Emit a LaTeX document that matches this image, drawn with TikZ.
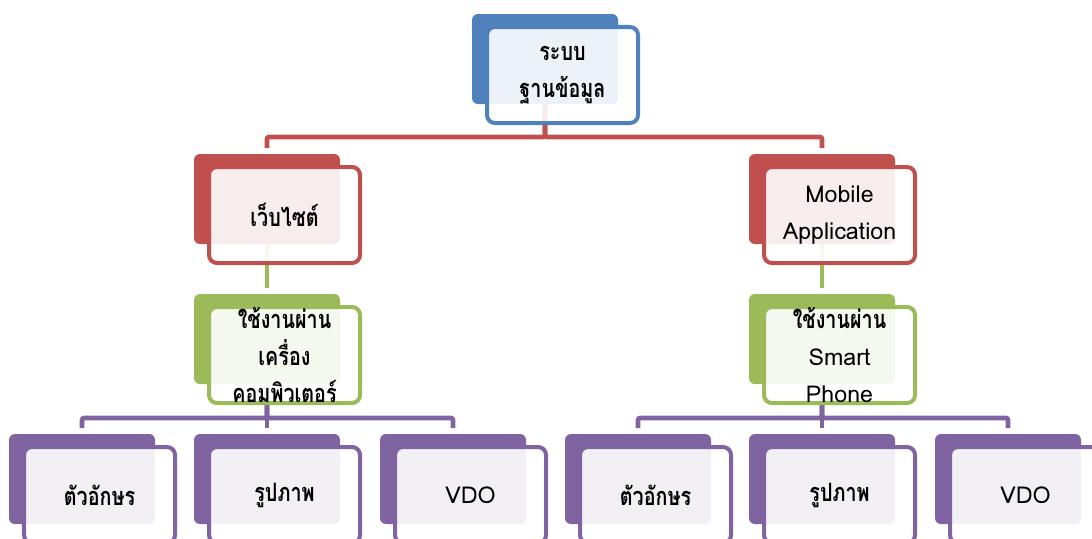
\documentclass[tikz,border=0pt]{standalone}
\usepackage{fontspec}
\setmainfont[Script=Thai]{Loma}
\newfontfamily\thaifont[Script=Thai, FakeStretch=0.78]{Loma}
\newcommand\thaitext{\thaifont\bfseries\fontsize{18}{26.5}\selectfont}
\usetikzlibrary{calc,backgrounds}

\definecolor{boxblue}{HTML}{4F81BD}
\definecolor{boxred}{HTML}{C0504D}
\definecolor{boxgreen}{HTML}{9BBB59}
\definecolor{boxpurple}{HTML}{8064A2}

\tikzset{
  backbox/.style={fill=#1, rounded corners=0.15cm, minimum width=3.65cm,
    minimum height=2.25cm, anchor=north west, inner sep=0pt, outer sep=0pt},
  frontbox/.style={draw=#1, fill=white, fill opacity=0.9, line width=0.1cm,
    rounded corners=0.2cm, minimum width=3.775cm, minimum height=2.4cm,
    anchor=north west, inner sep=0pt, outer sep=0pt},
  boxtext/.style={align=center, inner sep=0pt, font=\fontsize{16.5}{26.5}\selectfont},
  link/.style={draw=#1, line width=0.115cm, rounded corners=0.05cm, shorten >=0.15cm},
}

\begin{document}
\begin{tikzpicture}[x=0.025cm, y=-0.025cm]
    \useasboundingbox (0,0) rectangle (1092,539);
    \clip (0,0) rectangle (1092,539);

    % Boxes: coloured back, white front, text
    \foreach \nm/\x/\y/\col/\txt in {
        db/472/14/boxblue/\thaitext ระบบ\\\thaitext ฐานข้อมูล,
        web/194/154/boxred/\thaitext เว็บไซต์,
        mob/749/154/boxred/Mobile\\Application,
        pc/194/294/boxgreen/\thaitext ใช้งานผ่าน\\\thaitext เครื่อง\\\thaitext คอมพิวเตอร์,
        phone/749/294/boxgreen/\thaitext ใช้งานผ่าน\\\normalfont\fontsize{16.5}{26.5}\selectfont Smart\\\normalfont\fontsize{16.5}{26.5}\selectfont Phone,
        chl/9/434/boxpurple/\thaitext ตัวอักษร,
        picl/194/434/boxpurple/\thaitext รูปภาพ,
        vdol/380/434/boxpurple/VDO,
        chr/565/434/boxpurple/\thaitext ตัวอักษร,
        picr/749/434/boxpurple/\thaitext รูปภาพ,
        vdor/935/434/boxpurple/VDO}
    {
        \node[backbox=\col] (\nm-back) at (\x,\y) {};
        \node[frontbox=\col] (\nm-front) at ($(\nm-back.north west)+(15,13)$) {};
        \node[boxtext] (\nm-text) at (\nm-front.center) {\txt};
    }

    % Connectors
    \begin{scope}[on background layer]
        \draw[link=boxred] (db-back.south) |- ($(web-back.north)+(0,-17)$) -- (web-back.north);
        \draw[link=boxred] (db-back.south) |- ($(mob-back.north)+(0,-17)$) -- (mob-back.north);

        \draw[link=boxgreen] (web-back.south) -- (pc-back.north);
        \draw[link=boxgreen] (mob-back.south) -- (phone-back.north);

        \foreach \c in {chl, picl, vdol}
            \draw[link=boxpurple] (pc-back.south) |- ($(\c-back.north)+(0,-16)$) -- (\c-back.north);
        \foreach \c in {chr, picr, vdor}
            \draw[link=boxpurple] (phone-back.south) |- ($(\c-back.north)+(0,-16)$) -- (\c-back.north);
    \end{scope}
\end{tikzpicture}
\end{document}
